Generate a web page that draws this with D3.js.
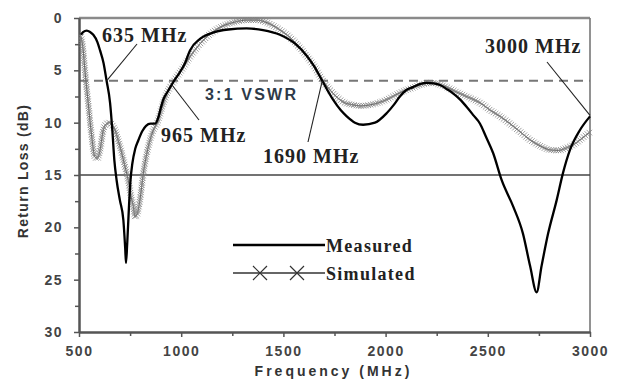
<!DOCTYPE html>
<html>
<head>
<meta charset="utf-8">
<script src="https://cdn.jsdelivr.net/npm/d3@7"></script>
<style>
  body { margin: 0; background: #fff; }
  svg { display: block; }
</style>
</head>
<body>
<div id="chart"></div>
<script>
// measured return loss (dB) vs frequency (MHz)
const measFreq = [510, 520, 538, 555, 570, 590, 603, 620, 635, 652, 663, 673, 684, 700, 717, 726, 730, 736, 745, 752,
  761, 775, 790, 810, 828, 850, 872, 888, 900, 912, 935, 965, 986, 1019, 1043, 1092, 1156, 1230, 1320, 1400,
  1483, 1560, 1614, 1650, 1690, 1743, 1780, 1810, 1850, 1890, 1948, 2005, 2040, 2070, 2100, 2134, 2170, 2201, 2235, 2266,
  2300, 2330, 2365, 2397, 2430, 2462, 2490, 2526, 2568, 2624, 2672, 2707, 2739, 2763, 2795, 2837, 2868, 2902, 2951, 3000];
const measLoss = [1.6, 1.35, 1.2, 1.35, 1.6, 2.3, 3.1, 4.3, 6.0, 8.1, 10.7, 13.6, 15.5, 17.4, 19.3, 22.0, 23.4, 21.5, 17.8, 15.5,
  13.9, 12.5, 11.7, 10.8, 10.3, 10.1, 10.1, 9.5, 8.6, 7.8, 7.0, 6.0, 5.4, 4.3, 3.1, 2.0, 1.4, 1.1, 1.0, 1.15,
  1.6, 2.5, 3.6, 4.6, 6.0, 7.8, 8.8, 9.4, 10.0, 10.2, 10.0, 9.1, 8.3, 7.5, 6.9, 6.6, 6.3, 6.2, 6.25, 6.4,
  6.8, 7.2, 7.8, 8.5, 9.3, 10.1, 11.3, 12.9, 15.5, 18.0, 20.6, 23.7, 26.2, 23.7, 20.6, 17.4, 14.8, 12.6, 10.7, 9.4];

// simulated return loss
const simFreq = [510, 520, 529, 545, 562, 578, 590, 603, 619, 635, 650, 665, 676, 692, 709, 725, 741, 756, 766, 774,
  785, 798, 815, 839, 864, 885, 905, 930, 965, 1000, 1050, 1100, 1150, 1200, 1260, 1320, 1370, 1420, 1480, 1540,
  1600, 1650, 1690, 1743, 1790, 1841, 1880, 1924, 1965, 2005, 2045, 2086, 2128, 2168, 2200, 2232, 2265, 2299, 2340, 2379,
  2420, 2462, 2511, 2560, 2609, 2660, 2707, 2755, 2804, 2845, 2886, 2920, 2951, 2980, 3000];
const simLoss = [1.8, 3.0, 5.0, 8.1, 11.3, 13.3, 13.4, 12.6, 10.7, 10.1, 10.0, 10.3, 10.7, 11.7, 12.9, 14.2, 15.5, 17.2, 18.0, 19.0,
  18.7, 17.4, 14.8, 12.3, 10.7, 9.9, 8.6, 7.2, 6.0, 5.0, 3.5, 2.3, 1.4, 0.8, 0.4, 0.2, 0.2, 0.45, 1.1, 2.0,
  3.3, 4.6, 5.9, 7.2, 8.0, 8.3, 8.4, 8.3, 8.1, 7.8, 7.4, 7.0, 6.7, 6.4, 6.25, 6.2, 6.35, 6.6, 7.0, 7.35,
  7.7, 8.1, 8.8, 9.4, 10.1, 10.9, 11.65, 12.2, 12.6, 12.65, 12.4, 12.1, 11.65, 11.2, 10.9];

const xTicks = [500, 1000, 1500, 2000, 2500, 3000];
const xMinor = [750, 1250, 1750, 2250, 2750];
const yTicks = [0, 5, 10, 15, 20, 25, 30];
const yMinor = [2.5, 7.5, 12.5, 17.5, 22.5, 27.5];

const vswrLevel = 6;
const refLevel = 15;
// annotated crossing points [freq, loss]
const marks = [
  { label: "635 MHz", f: 635, l: 6.0 },
  { label: "965 MHz", f: 955, l: 6.4 },
  { label: "1690 MHz", f: 1690, l: 6.0 },
  { label: "3000 MHz", f: 3000, l: 9.3 }
];

const width = 622;
const height = 381;
const margin = { top: 18, left: 79, bottom: 49, right: 32 };
const iwidth = width - margin.left - margin.right;
const iheight = height - margin.top - margin.bottom;

const svg = d3.select("#chart").append("svg")
  .attr("width", width)
  .attr("height", height);

const g = svg.append("g")
  .attr("transform", `translate(${margin.left},${margin.top})`);

const x = d3.scaleLinear().domain([500, 3000]).range([0, iwidth]);
const y = d3.scaleLinear().domain([0, 30]).range([0, iheight]);

const sans = "Arial, 'Liberation Sans', sans-serif";
const serif = "'Times New Roman', 'Liberation Serif', serif";

// frame (top + right)
g.append("line").attr("x1", 0).attr("x2", iwidth).attr("y1", 0).attr("y2", 0)
  .attr("stroke", "#8a8a8a").attr("stroke-width", 2.5);
g.append("line").attr("x1", iwidth).attr("x2", iwidth).attr("y1", 0).attr("y2", iheight)
  .attr("stroke", "#777").attr("stroke-width", 1.6);

// reference lines
g.append("line").attr("x1", 0).attr("x2", iwidth).attr("y1", y(refLevel)).attr("y2", y(refLevel))
  .attr("stroke", "#444").attr("stroke-width", 1.4);
g.append("line").attr("x1", 0).attr("x2", iwidth).attr("y1", y(vswrLevel)).attr("y2", y(vswrLevel))
  .attr("stroke", "#777").attr("stroke-width", 2).attr("stroke-dasharray", "9,6");

// axes
const xAxis = g.append("g")
  .attr("transform", `translate(0,${iheight})`)
  .call(d3.axisBottom(x).tickValues(xTicks).tickFormat(d3.format("d")).tickSize(5).tickPadding(9).tickSizeOuter(0));
const xAxisMinor = g.append("g")
  .attr("transform", `translate(0,${iheight})`)
  .call(d3.axisBottom(x).tickValues(xMinor).tickSize(4).tickFormat("").tickSizeOuter(0));
const yAxis = g.append("g")
  .call(d3.axisLeft(y).tickValues(yTicks).tickSize(5).tickPadding(11).tickSizeOuter(0));
const yAxisMinor = g.append("g")
  .call(d3.axisLeft(y).tickValues(yMinor).tickSize(4).tickFormat("").tickSizeOuter(0));

[xAxis, xAxisMinor, yAxis, yAxisMinor].forEach((a) => {
  a.select(".domain").attr("stroke", "#555").attr("stroke-width", 2);
  a.selectAll(".tick line").attr("stroke", "#555").attr("stroke-width", 1.5);
  a.selectAll("text")
    .attr("font-family", sans)
    .attr("font-weight", "bold")
    .attr("font-size", 14)
    .attr("letter-spacing", 1.5)
    .attr("fill", "#444");
});

// axis titles
svg.append("text")
  .attr("x", margin.left + iwidth / 2 - 1)
  .attr("y", 376)
  .attr("text-anchor", "middle")
  .attr("font-family", sans).attr("font-weight", "bold").attr("font-size", 14)
  .attr("letter-spacing", 3).attr("fill", "#333")
  .text("Frequency (MHz)");

svg.append("text")
  .attr("transform", `translate(28,${margin.top + 153}) rotate(-90)`)
  .attr("text-anchor", "middle")
  .attr("font-family", sans).attr("font-weight", "bold").attr("font-size", 14)
  .attr("letter-spacing", 1.3).attr("fill", "#333")
  .text("Return Loss (dB)");

// series
const meas = measFreq.map((f, i) => [f, measLoss[i]]);
const sim = simFreq.map((f, i) => [f, simLoss[i]]);

const line = d3.line()
  .x((d) => x(d[0]))
  .y((d) => y(d[1]))
  .curve(d3.curveMonotoneX);

const simPath = g.append("path")
  .datum(sim)
  .attr("fill", "none")
  .attr("stroke", "#555")
  .attr("stroke-width", 1)
  .attr("d", line);

// dense cross markers along simulated curve
const node = simPath.node();
const total = node.getTotalLength();
const cross = (s) => `M${-s},${-s}L${s},${s}M${-s},${s}L${s},${-s}`;
const pts = d3.range(0, total, 2.4).map((t) => node.getPointAtLength(t));
g.append("g").selectAll("path")
  .data(pts)
  .enter()
  .append("path")
  .attr("transform", (p) => `translate(${p.x},${p.y})`)
  .attr("d", cross(2.8))
  .attr("fill", "none")
  .attr("stroke", "#808080")
  .attr("stroke-width", 0.9)
  .attr("stroke-opacity", 0.85);

g.append("path")
  .datum(meas)
  .attr("fill", "none")
  .attr("stroke", "#000")
  .attr("stroke-width", 2.3)
  .attr("stroke-linejoin", "round")
  .attr("d", line);

// annotations
svg.append("text")
  .attr("x", 205).attr("y", 100)
  .attr("font-family", sans).attr("font-weight", "bold").attr("font-size", 16)
  .attr("letter-spacing", 2.2).attr("fill", "#2e3a48")
  .text("3:1 VSWR");

const labelPos = [
  { tx: 102, ty: 42, lx: 137, ly: 44 },
  { tx: 161, ty: 142, lx: 199, ly: 120 },
  { tx: 263, ty: 163, lx: 308, ly: 142 },
  { tx: 485, ty: 53, lx: 547, ly: 62 }
];

marks.forEach((m, i) => {
  const p = labelPos[i];
  svg.append("line")
    .attr("x1", p.lx).attr("y1", p.ly)
    .attr("x2", margin.left + x(m.f)).attr("y2", margin.top + y(m.l))
    .attr("stroke", "#222").attr("stroke-width", 1.1);
  svg.append("text")
    .attr("x", p.tx).attr("y", p.ty)
    .attr("font-family", serif).attr("font-weight", "bold").attr("font-size", 20)
    .attr("letter-spacing", 1).attr("fill", "#222")
    .text(m.label);
});

// legend
const legend = svg.append("g");
legend.append("line").attr("x1", 233).attr("x2", 325).attr("y1", 245).attr("y2", 245)
  .attr("stroke", "#000").attr("stroke-width", 2.5);
legend.append("line").attr("x1", 233).attr("x2", 325).attr("y1", 273).attr("y2", 273)
  .attr("stroke", "#333").attr("stroke-width", 1.3);
[260, 297].forEach((cx) => {
  legend.append("path")
    .attr("transform", `translate(${cx},273)`)
    .attr("d", cross(7))
    .attr("fill", "none").attr("stroke", "#333").attr("stroke-width", 1.2);
});
legend.append("text").attr("x", 326).attr("y", 252)
  .attr("font-family", serif).attr("font-weight", "bold").attr("font-size", 18)
  .attr("letter-spacing", 1.3).attr("fill", "#222").text("Measured");
legend.append("text").attr("x", 326).attr("y", 280)
  .attr("font-family", serif).attr("font-weight", "bold").attr("font-size", 18)
  .attr("letter-spacing", 1.3).attr("fill", "#222").text("Simulated");
</script>
</body>
</html>
